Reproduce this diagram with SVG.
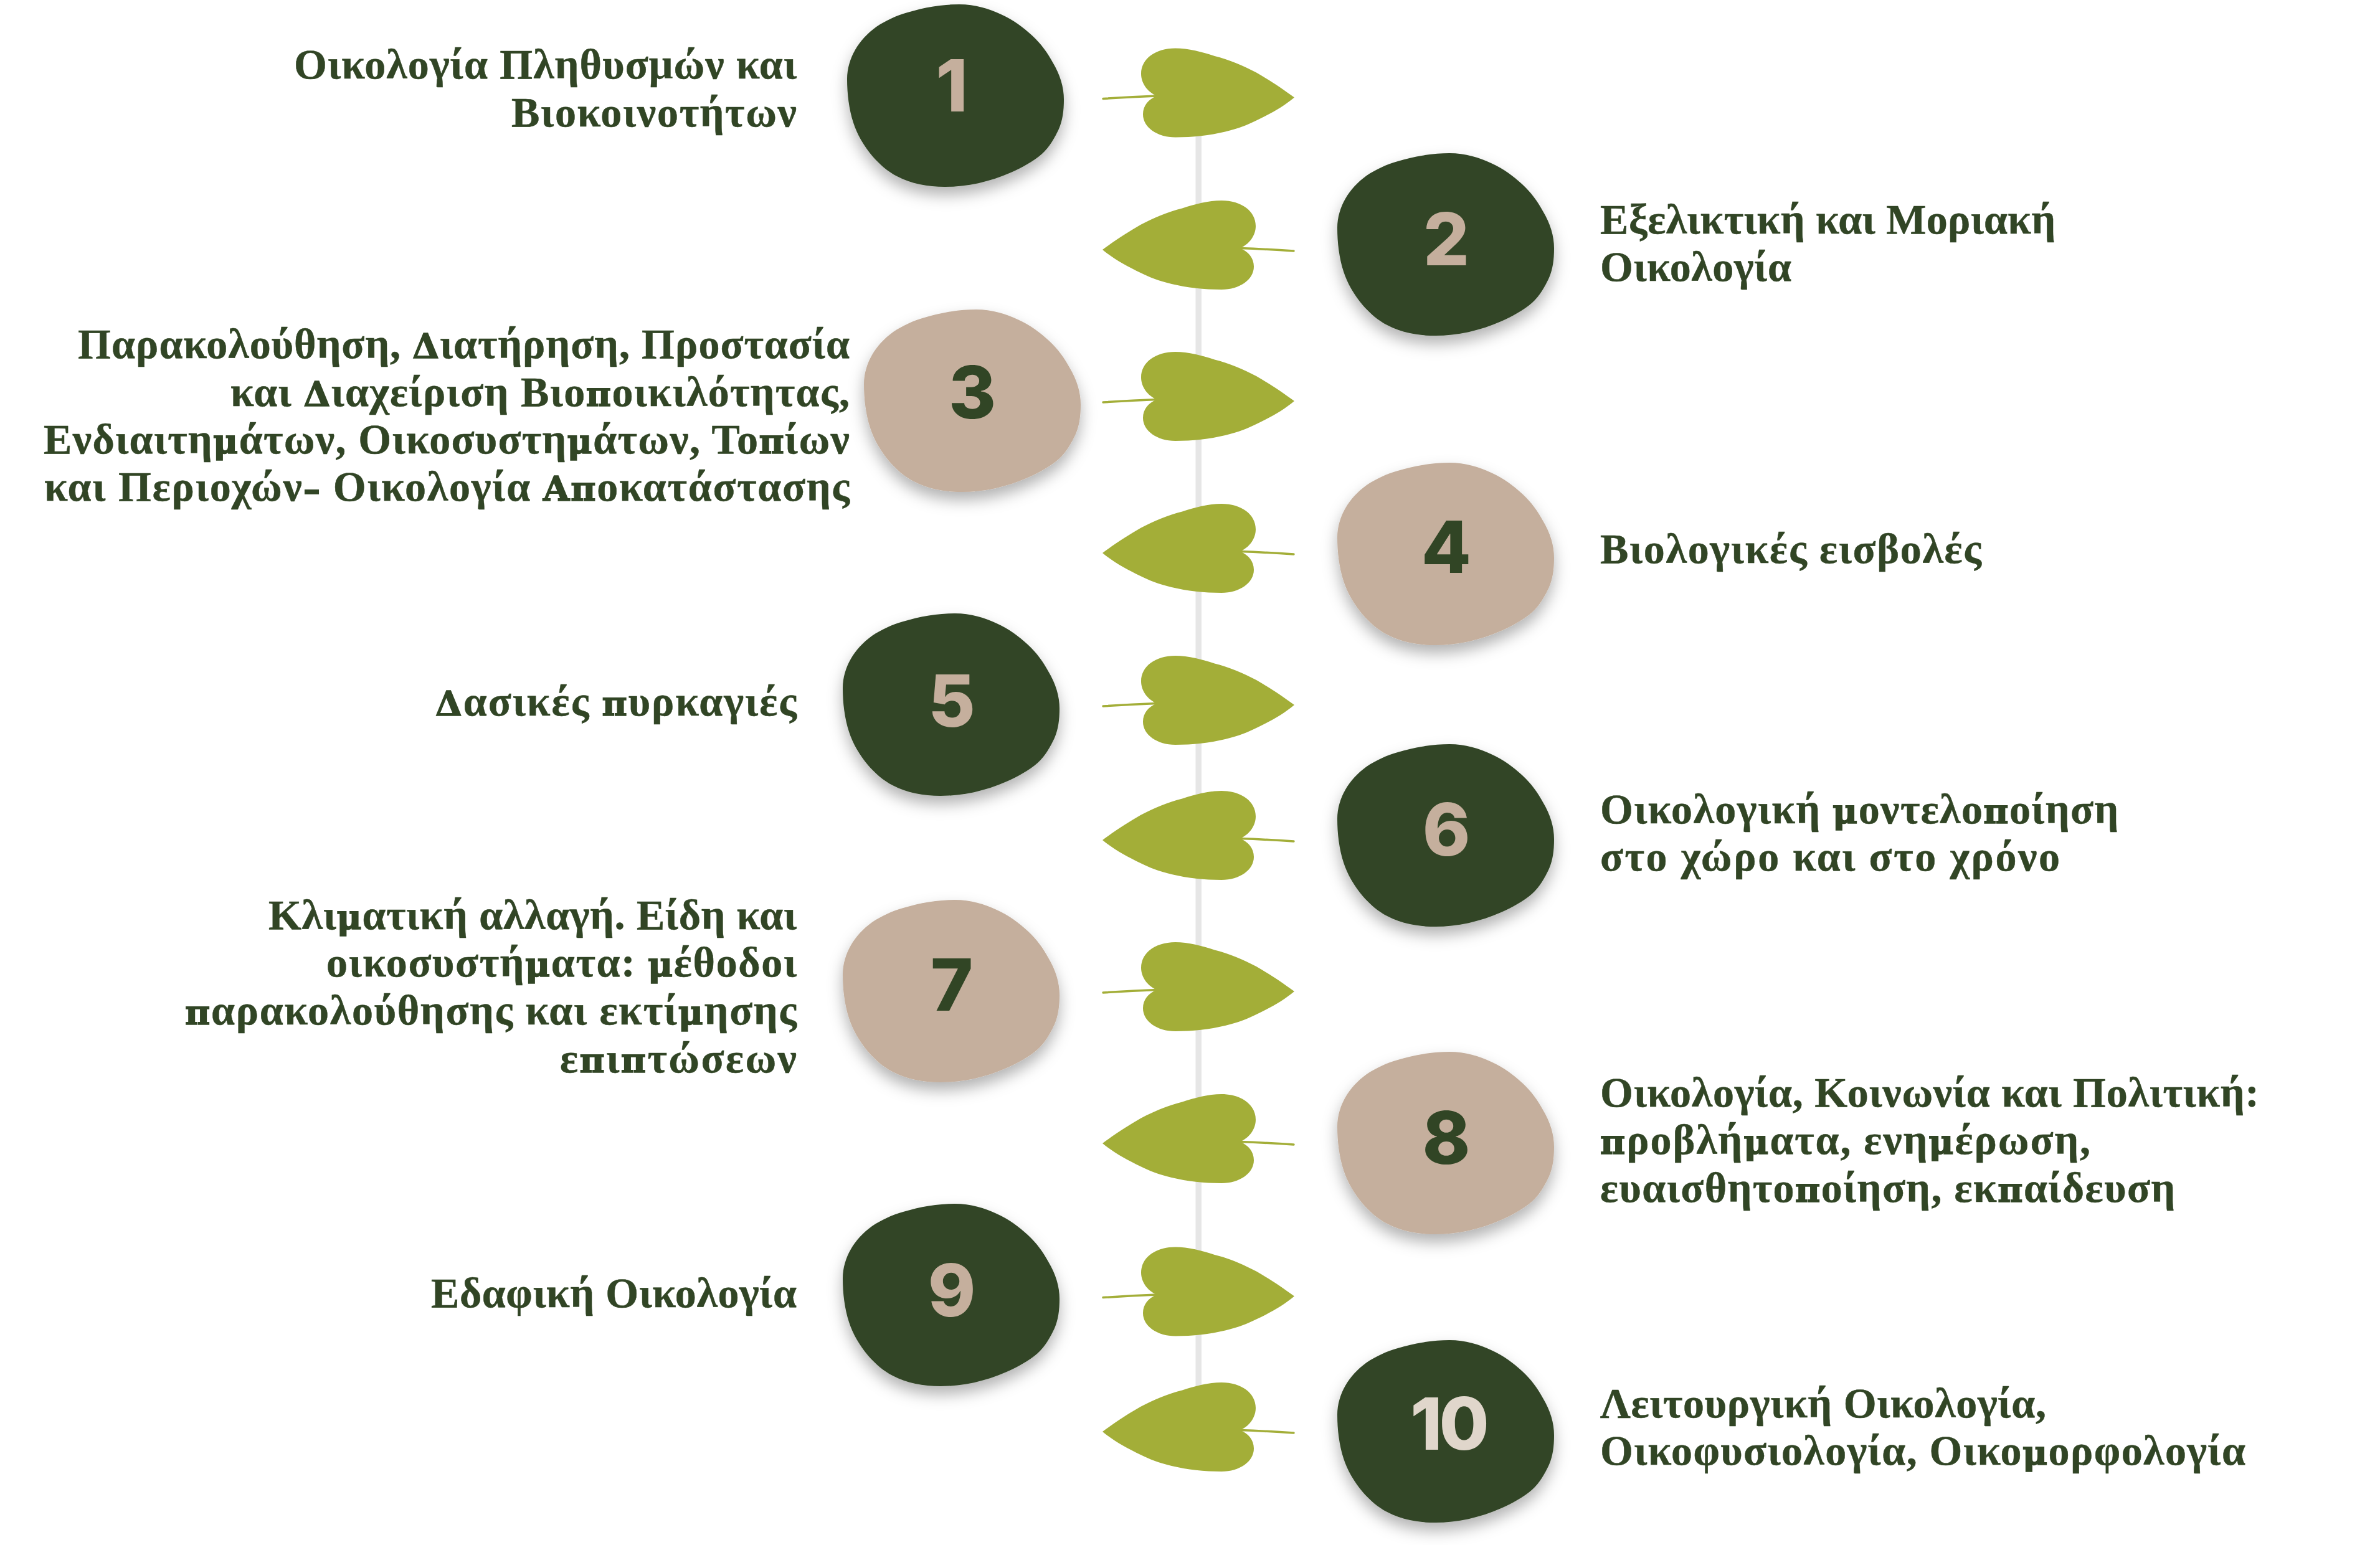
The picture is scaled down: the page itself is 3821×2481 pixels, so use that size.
<svg xmlns="http://www.w3.org/2000/svg" xmlns:xlink="http://www.w3.org/1999/xlink" width="3821" height="2481" viewBox="0 0 3821 2481">
<style>
.dark{fill:#314525}.tan{fill:#c5af9d}
.leaf{fill:#a3ae38}.stem{fill:none;stroke:#a3ae38;stroke-width:3.5;stroke-linecap:round}
.num{font-family:"Inter","Liberation Sans",sans-serif;font-weight:800;font-size:116px;text-anchor:middle}
.nd{fill:#314525}.nt{fill:#c5af9d}.nl{fill:#e0d6cb}
.t{font-family:"Liberation Serif",serif;font-weight:700;font-size:68px;fill:#314525;stroke:#314525;stroke-width:.5}
.e{text-anchor:end}
.t .h{font-family:"DejaVu Serif",serif;font-weight:700;font-size:55px;stroke-width:1.5}
</style>
<defs>
<filter id="sh" x="-20%" y="-20%" width="140%" height="150%"><feDropShadow dx="0" dy="13" stdDeviation="12" flood-color="#000" flood-opacity=".3"/></filter>
<path id="blob" d="M180,0C206,0 228,7 247,16C267,25 283,37 297,50C312,64 322,78 330,93C342,113 348,133 348,153C348,171 346,186 340,200C333,215 325,229 313,240C299,252 281,262 263,270C229,285 193,293 157,293C129,293 103,288 80,276C66,269 52,257 40,243C27,227 16,209 10,190C3,168 0,144 0,120C0,103 5,87 13,73C21,59 33,46 47,36C62,26 79,18 97,13C124,5 152,0 180,0Z"/>
<g id="leafR"><path class="stem" d="M1,81Q45,78 88,76.5"/><path d="M308,79C285,62 266,50 247,39C226,28 203,18 180,12.5C160,6 138,0 117,0C85,0 62,17 62,41C62,56 72,70 87,76.5C74,82 65,92 65,106C65,127 88,143 117,143C145,143 172,140 197,134C218,129 233,123 247,116C270,105 290,94 308,79Z"/></g>
<use id="leafL" xlink:href="#leafR" transform="translate(308,0) scale(-1,1)"/>
</defs>
<rect width="3821" height="2481" fill="#fff"/>
<g id="connectors"><rect x="1919.5" y="200" width="9.5" height="2060" fill="#e6e6e6"/></g>
<g id="n1"><use xlink:href="#blob" x="1360" y="7" class="dark" filter="url(#sh)"/><text class="num nt" x="1528" y="179">1</text><use xlink:href="#leafR" x="1770" y="77.5" class="leaf"/>
<text class="t e" x="1279" y="126" textLength="807">Οικολογία Πληθυσμών και</text><text class="t e" x="1279" y="203" textLength="458">Βιοκοινοτήτων</text></g>
<g id="n2"><use xlink:href="#blob" x="2147" y="246" class="dark" filter="url(#sh)"/><text class="num nt" x="2322" y="426">2</text><use xlink:href="#leafL" x="1770" y="322" class="leaf"/>
<text class="t" x="2569" y="375" textLength="731">Εξελικτική και Μοριακή</text><text class="t" x="2569" y="451" textLength="307">Οικολογία</text></g>
<g id="n3"><use xlink:href="#blob" x="1387" y="497" class="tan" filter="url(#sh)"/><text class="num nd" x="1561" y="672">3</text><use xlink:href="#leafR" x="1770" y="565" class="leaf"/>
<text class="t e" x="1364" y="575" textLength="1239">Παρακολούθηση, <tspan class="h">Δ</tspan>ιατήρηση, Προστασία</text><text class="t e" x="1364" y="652" textLength="994">και <tspan class="h">Δ</tspan>ιαχείριση Βιο<tspan class="h">π</tspan>οικιλότητας,</text><text class="t e" x="1364" y="728" textLength="1294">Ενδιαιτη<tspan class="h">μ</tspan>άτων, Οικοσυστη<tspan class="h">μ</tspan>άτων, Το<tspan class="h">π</tspan>ίων</text><text class="t e" x="1364" y="804" textLength="1293">και Περιοχών<tspan class="h">–</tspan> Οικολογία <tspan class="h">Απ</tspan>οκατάστασης</text></g>
<g id="n4"><use xlink:href="#blob" x="2147" y="743" class="tan" filter="url(#sh)"/><text class="num nd" x="2322" y="920">4</text><use xlink:href="#leafL" x="1770" y="809" class="leaf"/>
<text class="t" x="2569" y="904" textLength="612">Βιολογικές εισβολές</text></g>
<g id="n5"><use xlink:href="#blob" x="1353" y="985" class="dark" filter="url(#sh)"/><text class="num nt" x="1528" y="1167">5</text><use xlink:href="#leafR" x="1770" y="1053" class="leaf"/>
<text class="t e" x="1279" y="1149" textLength="580"><tspan class="h">Δ</tspan>ασικές <tspan class="h">π</tspan>υρκαγιές</text></g>
<g id="n6"><use xlink:href="#blob" x="2147" y="1195" class="dark" filter="url(#sh)"/><text class="num nt" x="2322" y="1374">6</text><use xlink:href="#leafL" x="1770" y="1270" class="leaf"/>
<text class="t" x="2569" y="1322" textLength="832">Οικολογική <tspan class="h">μ</tspan>οντελο<tspan class="h">π</tspan>οίηση</text><text class="t" x="2569" y="1398" textLength="738">στο χώρο και στο χρόνο</text></g>
<g id="n7"><use xlink:href="#blob" x="1353" y="1445" class="tan" filter="url(#sh)"/><text class="num nd" x="1528" y="1623">7</text><use xlink:href="#leafR" x="1770" y="1513" class="leaf"/>
<text class="t e" x="1279" y="1492" textLength="848">Κλι<tspan class="h">μ</tspan>ατική αλλαγή. Είδη και</text><text class="t e" x="1279" y="1568" textLength="755">οικοσυστή<tspan class="h">μ</tspan>ατα: <tspan class="h">μ</tspan>έθοδοι</text><text class="t e" x="1279" y="1645" textLength="982"><tspan class="h">π</tspan>αρακολούθησης και εκτί<tspan class="h">μ</tspan>ησης</text><text class="t e" x="1279" y="1722" textLength="380">ε<tspan class="h">π</tspan>ι<tspan class="h">π</tspan>τώσεων</text></g>
<g id="n8"><use xlink:href="#blob" x="2147" y="1689" class="tan" filter="url(#sh)"/><text class="num nd" x="2322" y="1869">8</text><use xlink:href="#leafL" x="1770" y="1757" class="leaf"/>
<text class="t" x="2569" y="1777" textLength="1058">Οικολογία, Κοινωνία και Πολιτική:</text><text class="t" x="2569" y="1853" textLength="787"><tspan class="h">π</tspan>ροβλή<tspan class="h">μ</tspan>ατα, ενη<tspan class="h">μ</tspan>έρωση,</text><text class="t" x="2569" y="1930" textLength="923">ευαισθητο<tspan class="h">π</tspan>οίηση, εκ<tspan class="h">π</tspan>αίδευση</text></g>
<g id="n9"><use xlink:href="#blob" x="1353" y="1933" class="dark" filter="url(#sh)"/><text class="num nt" x="1528" y="2114">9</text><use xlink:href="#leafR" x="1770" y="2002.6" class="leaf"/>
<text class="t e" x="1279" y="2099" textLength="587">Εδαφική Οικολογία</text></g>
<g id="n10"><use xlink:href="#blob" x="2147" y="2152" class="dark" filter="url(#sh)"/><text class="num nl" x="2325" y="2328" letter-spacing="-5">10</text><use xlink:href="#leafL" x="1770" y="2220" class="leaf"/>
<text class="t" x="2569" y="2276" textLength="716">Λειτουργική Οικολογία,</text><text class="t" x="2569" y="2352" textLength="1036">Οικοφυσιολογία, Οικο<tspan class="h">μ</tspan>ορφολογία</text></g>
</svg>
